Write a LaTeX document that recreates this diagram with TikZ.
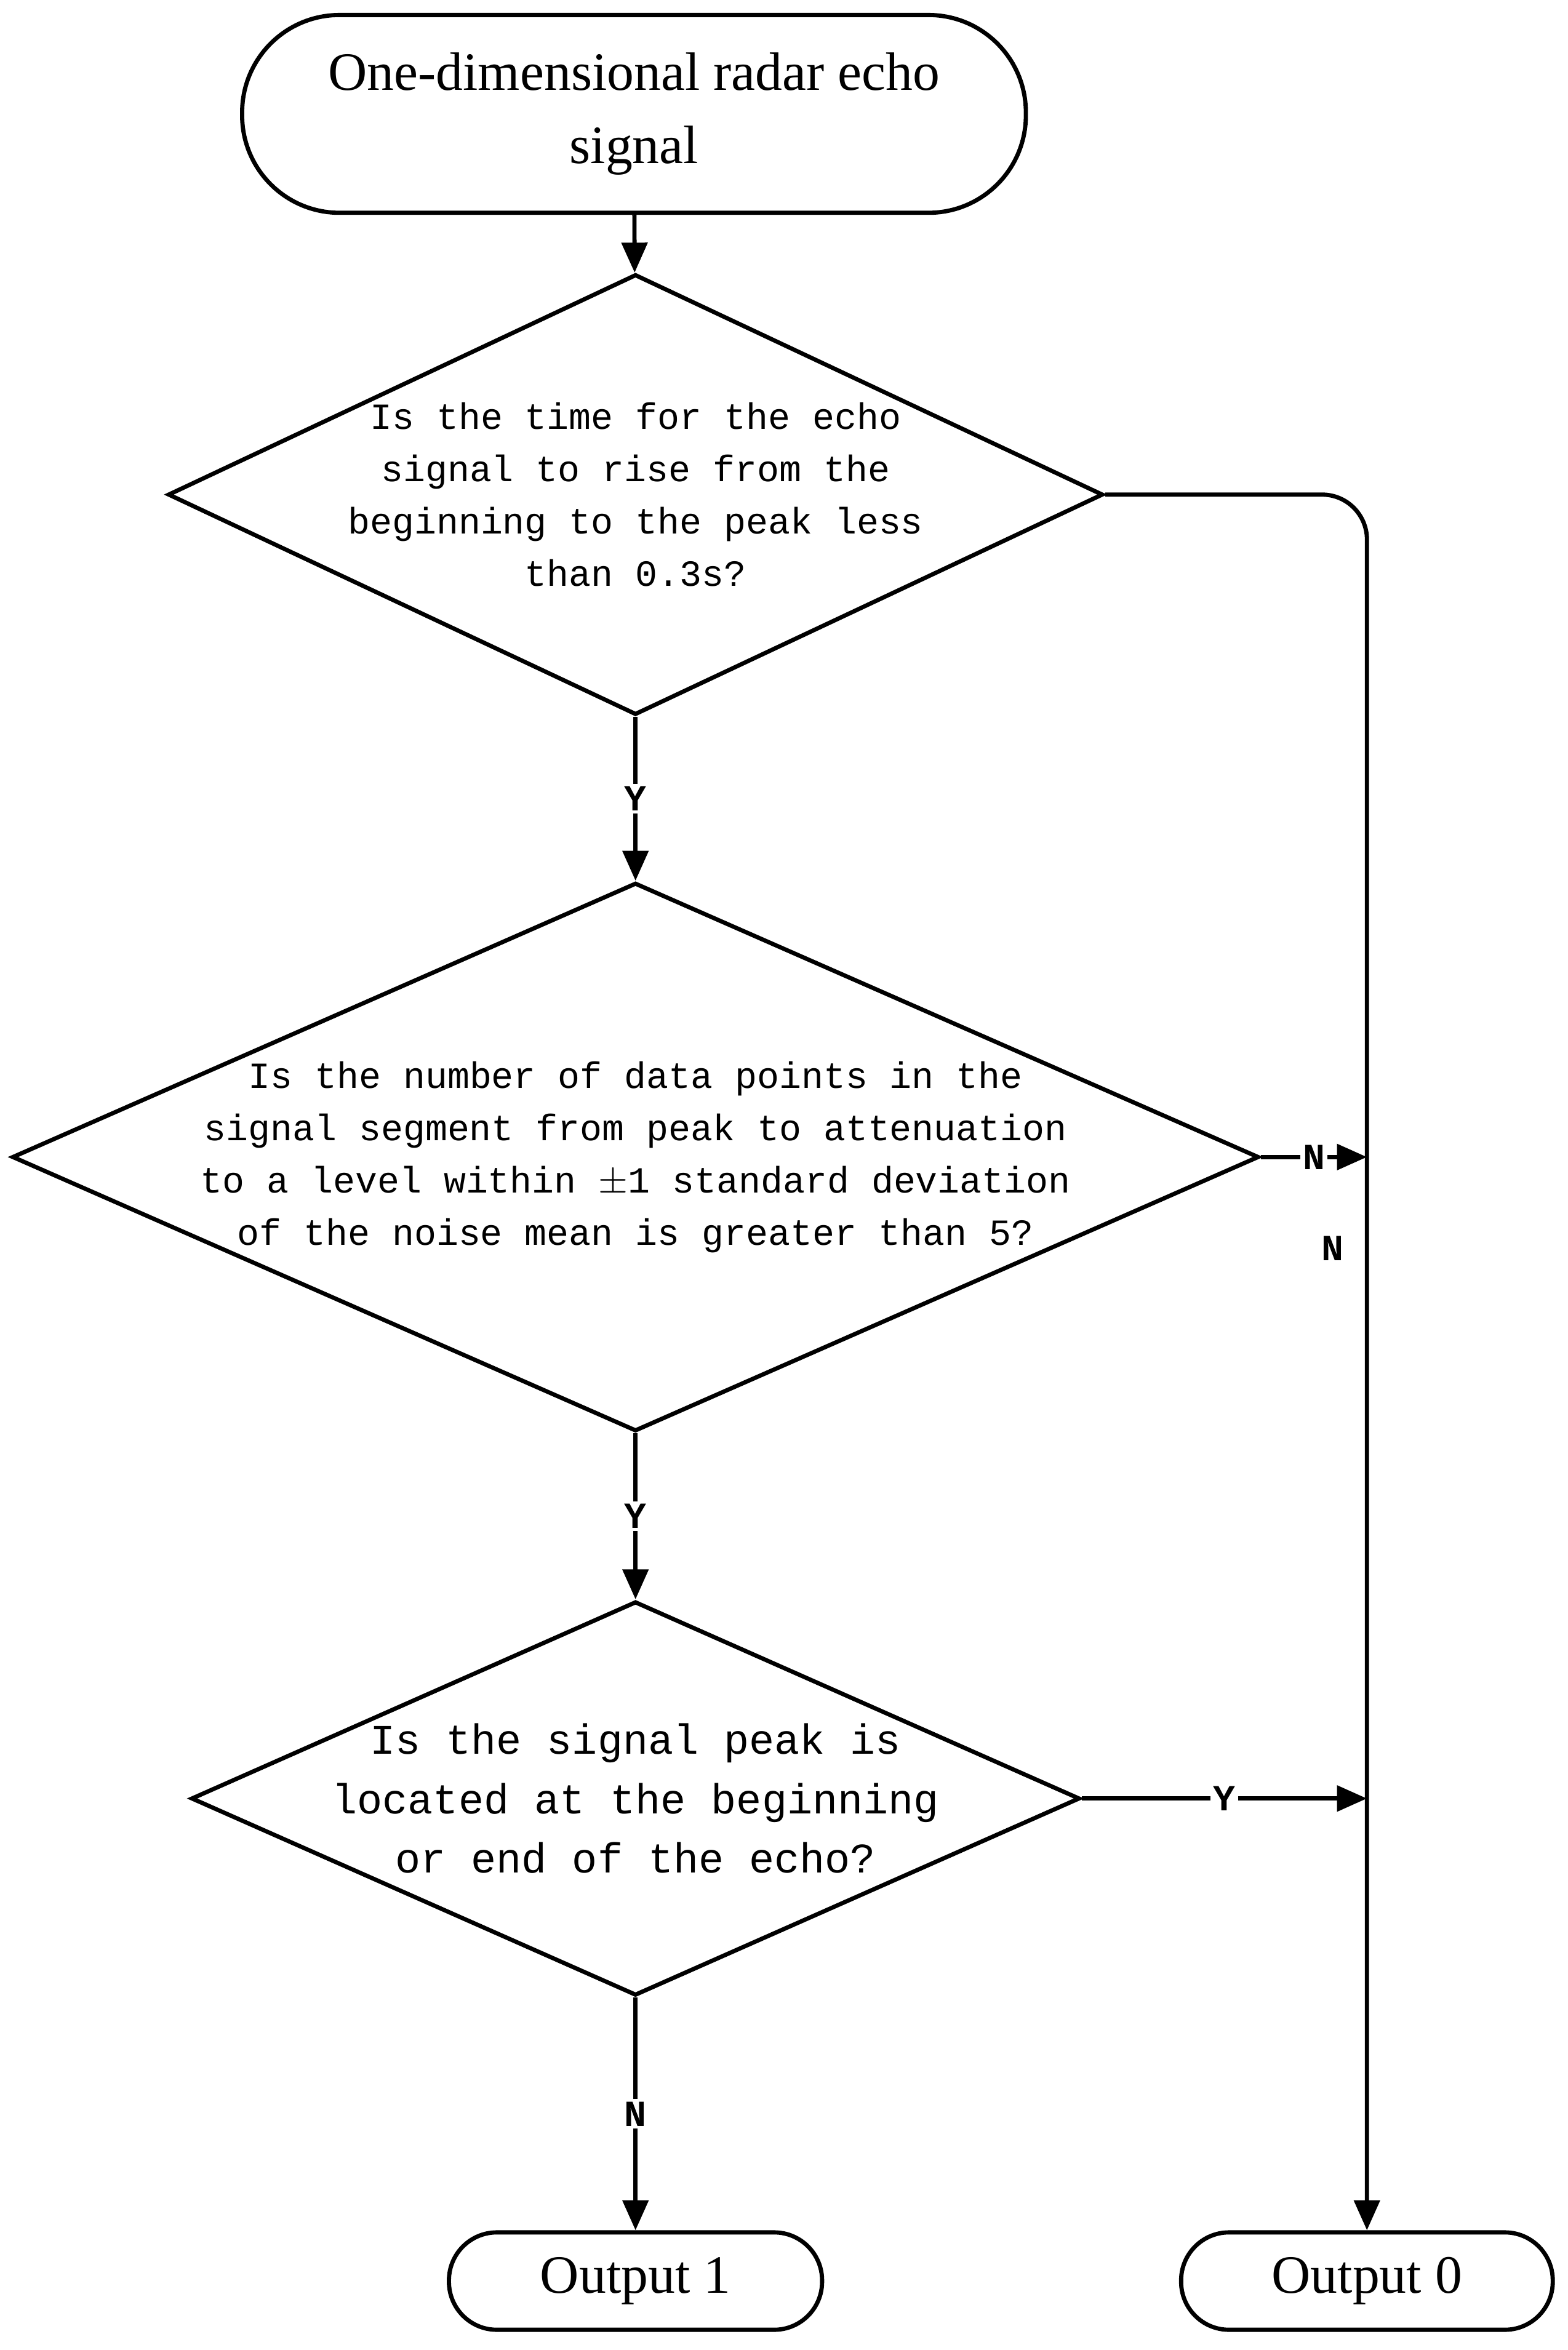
\documentclass[tikz,border=0pt]{standalone}
\usepackage{fontspec}
\setmainfont{Liberation Serif}
\newfontfamily\monof{Liberation Mono}
\usetikzlibrary{shapes.geometric,arrows.meta}
\begin{document}
\begin{tikzpicture}[x=0.02cm,y=-0.02cm,
  line width=1.6pt,
  term/.style={draw,inner sep=0,font=\fontsize{20.5}{28}\selectfont,align=center},
  dia/.style={draw,diamond,inner sep=0,shape aspect=1},
  dtext/.style={align=center,font=\monof\fontsize{14}{19.9}\selectfont},
  lab/.style={font=\monof\bfseries\fontsize{14}{16}\selectfont,fill=white,inner sep=1pt},
  arr/.style={-{Triangle[length=0.4cm,width=0.34cm]}}]
\useasboundingbox (0,0) rectangle (1046,1568);
\node[term,rounded corners=1.3cm,minimum width=10.46cm,minimum height=2.64cm] (s) at (423,76) {One-dimensional radar echo\\signal};
\node[dia,minimum width=12.48cm,minimum height=5.88cm] (d1) at (424,330) {};
\node[dtext] at (424,330) {Is the time for the echo\\signal to rise from the\\beginning to the peak less\\than 0.3s?};
\node[dia,minimum width=16.64cm,minimum height=7.32cm] (d2) at (424,772) {};
\node[dtext] at (424,772) {Is the number of data points in the\\signal segment from peak to attenuation\\to a level within $\pm$1 standard deviation\\of the noise mean is greater than 5?};
\node[dia,minimum width=11.86cm,minimum height=5.26cm] (d3) at (424,1200) {};
\node[dtext,font=\monof\fontsize{16}{22.5}\selectfont] at (424,1200) {Is the signal peak is\\located at the beginning\\or end of the echo?};
\node[term,rounded corners=0.64cm,minimum width=4.98cm,minimum height=1.3cm] (o1) at (424,1522) {Output 1};
\node[term,rounded corners=0.64cm,minimum width=4.96cm,minimum height=1.3cm] (o0) at (912,1522) {Output 0};
\coordinate (r2) at (912,772);
\coordinate (r3) at (912,1200);
\draw[arr] (s) -- (d1);
\draw[arr] (d1) -- node[lab,pos=0.5]{Y} (d2);
\draw[arr] (d2) -- node[lab,pos=0.5]{Y} (d3);
\draw[arr] (d3) -- node[lab,pos=0.5]{N} (o1);
\draw[arr,rounded corners=0.6cm] (d1.east) -| (o0.north);
\draw[arr] (d2.east) -- node[lab,pos=0.5]{N} (r2);
\draw[arr] (d3.east) -- node[lab,pos=0.5]{Y} (r3);
\node[lab] at (889,833) {N};
\end{tikzpicture}
\end{document}
